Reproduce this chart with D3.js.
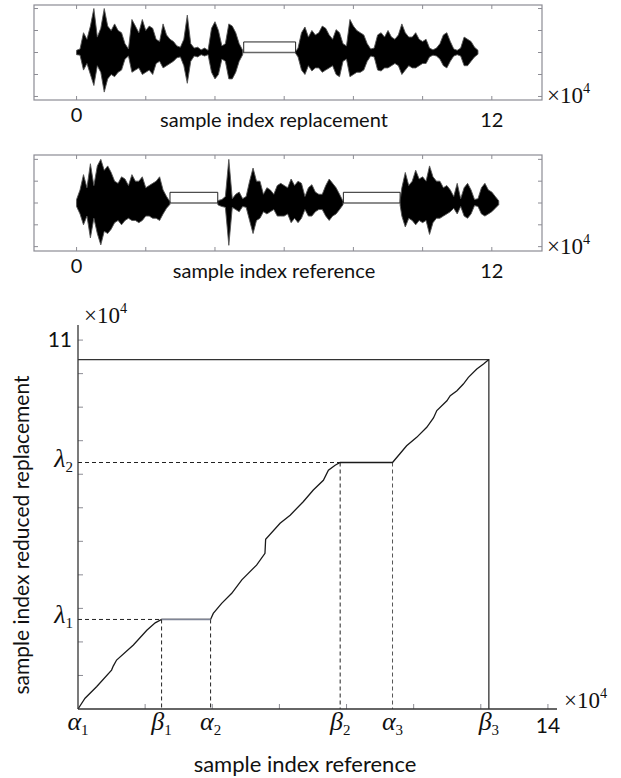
<!DOCTYPE html>
<html><head><meta charset="utf-8">
<script src="https://cdn.jsdelivr.net/npm/d3@7"></script>
<style>body{margin:0;background:#fff}</style>
</head><body><svg id="c" width="621" height="778"></svg>
<script>
// ---------- DATA ----------
// top waveform: sample index replacement (x in 1e4 samples), [x, upper, lower]
const repWaveA = [
 [0.0,0.05,-0.05],[0.1,0.08,-0.06],[0.2,0.45,-0.4],[0.3,0.3,-0.25],[0.4,0.6,-0.5],[0.5,1.0,-0.75],[0.6,0.35,-0.3],[0.7,0.55,-0.45],[0.8,1.0,-0.9],[0.9,0.6,-0.6],
 [1.0,0.5,-0.5],[1.1,0.65,-0.55],[1.2,0.5,-0.45],[1.3,0.45,-0.4],[1.4,0.2,-0.15],[1.5,0.08,-0.08],[1.6,0.75,-0.45],[1.7,0.6,-0.4],[1.8,0.45,-0.35],[1.9,0.75,-0.5],
 [2.0,0.5,-0.45],[2.1,0.6,-0.4],[2.2,0.55,-0.5],[2.3,0.3,-0.25],[2.4,0.25,-0.2],[2.5,0.65,-0.35],[2.6,0.4,-0.3],[2.7,0.3,-0.25],[2.8,0.25,-0.2],[2.9,0.15,-0.12],
 [3.0,0.12,-0.1],[3.1,0.3,-0.3],[3.2,0.85,-0.7],[3.3,0.2,-0.2],[3.4,0.1,-0.08],[3.5,0.12,-0.1],[3.6,0.06,-0.05],[3.7,0.1,-0.08],[3.8,0.05,-0.05],[3.9,0.55,-0.45],
 [4.0,0.7,-0.6],[4.1,0.5,-0.5],[4.2,0.15,-0.15],[4.3,0.2,-0.2],[4.4,0.65,-0.6],[4.5,0.6,-0.6],[4.6,0.45,-0.45],[4.7,0.2,-0.2],[4.8,0.05,-0.05]
];
const repWaveB = [
 [6.33,0.02,-0.02],[6.4,0.1,-0.1],[6.5,0.45,-0.4],[6.6,0.58,-0.5],[6.7,0.35,-0.3],[6.8,0.5,-0.42],[6.9,0.4,-0.35],[7.0,0.45,-0.35],[7.1,0.6,-0.45],[7.2,0.55,-0.4],
 [7.3,0.4,-0.35],[7.4,0.3,-0.3],[7.5,0.52,-0.5],[7.6,0.45,-0.55],[7.7,0.2,-0.2],[7.8,0.15,-0.15],[7.9,0.75,-0.55],[8.0,0.6,-0.5],[8.1,0.5,-0.45],[8.2,0.45,-0.45],
 [8.3,0.4,-0.4],[8.4,0.2,-0.2],[8.5,0.08,-0.08],[8.6,0.1,-0.1],[8.7,0.4,-0.4],[8.8,0.45,-0.42],[8.9,0.35,-0.35],[9.0,0.5,-0.35],[9.1,0.35,-0.3],[9.2,0.3,-0.25],
 [9.3,0.4,-0.3],[9.4,0.65,-0.5],[9.5,0.45,-0.4],[9.6,0.35,-0.3],[9.7,0.35,-0.35],[9.8,0.45,-0.35],[9.9,0.3,-0.3],[10.0,0.25,-0.25],[10.1,0.3,-0.25],[10.2,0.1,-0.1],
 [10.3,0.06,-0.06],[10.4,0.1,-0.08],[10.5,0.2,-0.15],[10.6,0.4,-0.3],[10.7,0.45,-0.35],[10.8,0.25,-0.2],[10.9,0.08,-0.08],[11.0,0.05,-0.05],[11.1,0.1,-0.08],[11.2,0.35,-0.3],
 [11.3,0.3,-0.3],[11.4,0.25,-0.2],[11.5,0.12,-0.1],[11.6,0.05,-0.04]
];
const repGaps = [[4.83, 6.33]];
const repGapHeight = 0.24;

// second waveform: sample index reference
const refWaveA = [
 [0.0,0.08,-0.08],[0.1,0.3,-0.25],[0.2,0.65,-0.5],[0.3,0.35,-0.3],[0.4,0.9,-0.8],[0.5,0.4,-0.35],[0.6,0.85,-0.7],[0.7,1.0,-0.96],[0.8,0.75,-0.65],[0.9,0.85,-0.7],
 [1.0,0.7,-0.6],[1.1,0.5,-0.45],[1.2,0.45,-0.4],[1.3,0.6,-0.5],[1.4,0.55,-0.4],[1.5,0.4,-0.35],[1.6,0.65,-0.4],[1.7,0.5,-0.4],[1.8,0.5,-0.45],[1.9,0.6,-0.4],
 [2.0,0.35,-0.3],[2.1,0.4,-0.3],[2.2,0.45,-0.35],[2.3,0.5,-0.35],[2.4,0.6,-0.4],[2.5,0.3,-0.25],[2.6,0.15,-0.12],[2.7,0.03,-0.03]
];
const refWaveB = [
 [4.08,0.03,-0.03],[4.1,0.06,-0.05],[4.2,0.08,-0.08],[4.3,0.15,-0.1],[4.4,1.0,-0.97],[4.5,0.1,-0.1],[4.6,0.2,-0.15],[4.7,0.25,-0.2],[4.8,0.1,-0.08],[4.9,0.15,-0.1],
 [5.0,0.5,-0.4],[5.1,0.8,-0.7],[5.2,0.5,-0.4],[5.3,0.5,-0.35],[5.4,0.2,-0.2],[5.5,0.35,-0.25],[5.6,0.3,-0.2],[5.7,0.2,-0.15],[5.8,0.4,-0.3],[5.9,0.45,-0.3],
 [6.0,0.4,-0.3],[6.1,0.35,-0.25],[6.2,0.55,-0.45],[6.3,0.4,-0.35],[6.4,0.5,-0.45],[6.5,0.45,-0.35],[6.6,0.15,-0.15],[6.7,0.35,-0.3],[6.8,0.42,-0.3],[6.9,0.25,-0.2],
 [7.0,0.2,-0.15],[7.1,0.2,-0.15],[7.2,0.4,-0.3],[7.3,0.55,-0.4],[7.4,0.45,-0.3],[7.5,0.35,-0.25],[7.6,0.2,-0.15],[7.7,0.04,-0.04]
];
const refWaveC = [
 [9.35,0.05,-0.05],[9.4,0.35,-0.3],[9.5,0.7,-0.55],[9.6,0.4,-0.35],[9.7,0.5,-0.4],[9.8,0.75,-0.5],[9.9,0.55,-0.4],[10.0,0.6,-0.45],[10.1,0.5,-0.4],[10.2,0.85,-0.72],
 [10.3,0.6,-0.45],[10.4,0.5,-0.35],[10.5,0.5,-0.35],[10.6,0.35,-0.3],[10.7,0.4,-0.25],[10.8,0.3,-0.2],[10.9,0.15,-0.12],[11.0,0.45,-0.25],[11.1,0.1,-0.08],[11.2,0.35,-0.3],
 [11.3,0.45,-0.35],[11.4,0.3,-0.25],[11.5,0.08,-0.06],[11.6,0.1,-0.08],[11.7,0.35,-0.25],[11.8,0.45,-0.3],[11.9,0.3,-0.25],[12.0,0.25,-0.2],[12.1,0.15,-0.12],[12.2,0.05,-0.04]
];
const refGaps = [[2.70, 4.08], [7.71, 9.35]];
const refGapHeight = 0.245;

const waveXTicks = [0, 2, 4, 6, 8, 10, 12];
const waveXLabels = ["0", "12"];
const waveYTicks = [-1, -0.5, 0, 0.5, 1];

// bottom chart: warping path (reference x, reduced replacement y), 1e4 samples
const warpPath = [
 [0.0,0.0],[0.21,0.32],[0.56,0.67],[1.00,1.16],[1.05,1.28],[1.15,1.46],[1.65,1.91],[2.05,2.35],[2.30,2.57],[2.49,2.67],
 [3.95,2.67],[4.03,2.85],[4.28,3.15],[4.58,3.45],[4.88,3.85],[5.32,4.29],[5.57,4.64],[5.59,5.06],[6.02,5.54],[6.32,5.78],
 [6.71,6.18],[7.01,6.53],[7.31,6.82],[7.46,7.12],[7.66,7.27],[7.81,7.35],
 [9.37,7.35],[9.59,7.61],[9.79,7.85],[10.09,8.10],[10.39,8.40],[10.59,8.68],[10.69,8.90],[10.99,9.19],[11.09,9.34],[11.29,9.49],
 [11.48,9.69],[11.63,9.89],[11.88,10.14],[12.08,10.29],[12.24,10.42]
];
const alphas = [0, 3.95, 9.37];
const betas = [2.49, 7.81, 12.24];
const lambdas = [2.67, 7.35];
const topLevel = 10.42;
const warpXTicks = [2, 4, 6, 8, 10, 12, 14];
const warpYTicks = [1, 2, 3, 4, 5, 6, 7, 8, 9, 10, 11];

// ---------- DRAW ----------
const svg = d3.select("#c");
const SANS = "Lato, 'Open Sans', sans-serif";
const SERIF = "'Liberation Serif', 'DejaVu Serif', serif";

function times10(g, x, y, size) {
  const t = g.append("text").attr("x", x).attr("y", y)
    .attr("font-family", SERIF).attr("font-size", size).attr("fill", "#111");
  t.append("tspan").text("×10");
  t.append("tspan").attr("dy", -size * 0.42).attr("font-size", size * 0.62).text("4");
}

function wavePanel(top, bottom, segs, gaps, gapH, yMax, xlabel) {
  const x = d3.scaleLinear().domain([-1.23, 13.45]).range([34, 542]);
  const y = d3.scaleLinear().domain([-yMax, yMax]).range([bottom, top]);
  const g = svg.append("g");
  const first = segs[0][0][0], last = segs[segs.length - 1];
  g.append("line").attr("x1", x(first)).attr("x2", x(last[last.length - 1][0]))
    .attr("y1", y(0)).attr("y2", y(0)).attr("stroke", "#666").attr("stroke-width", 1.3);
  const area = d3.area().x(d => x(d[0])).y0(d => y(d[2])).y1(d => y(d[1]));
  segs.forEach(s => {
    g.append("path").attr("d", area(s)).attr("fill", "#000")
      .attr("stroke", "#555").attr("stroke-width", 0.9);
  });
  gaps.forEach(([a, b]) => {
    g.append("path")
      .attr("d", `M${x(a)},${y(0)}V${y(gapH)}H${x(b)}V${y(0)}`)
      .attr("fill", "none").attr("stroke", "#222").attr("stroke-width", 1);
  });
  g.append("rect").attr("x", 34).attr("y", top).attr("width", 508).attr("height", bottom - top)
    .attr("fill", "none").attr("stroke", "#8c8c94").attr("stroke-width", 1.2);
  waveXTicks.forEach(t => {
    g.append("line").attr("x1", x(t)).attr("x2", x(t)).attr("y1", bottom).attr("y2", bottom - 4).attr("stroke", "#8c8c94");
    g.append("line").attr("x1", x(t)).attr("x2", x(t)).attr("y1", top).attr("y2", top + 4).attr("stroke", "#8c8c94");
  });
  waveYTicks.forEach(t => {
    g.append("line").attr("x1", 34).attr("x2", 38).attr("y1", y(t)).attr("y2", y(t)).attr("stroke", "#8c8c94");
    g.append("line").attr("x1", 542).attr("x2", 538).attr("y1", y(t)).attr("y2", y(t)).attr("stroke", "#8c8c94");
  });
  g.append("text").attr("x", x(0)).attr("y", bottom + 22).attr("text-anchor", "middle")
    .attr("font-family", SANS).attr("font-size", 20).attr("fill", "#111").text(waveXLabels[0]);
  g.append("text").attr("x", x(12)).attr("y", bottom + 27).attr("text-anchor", "middle")
    .attr("font-family", SANS).attr("font-size", 20).attr("fill", "#111").text(waveXLabels[1]);
  g.append("text").attr("x", 274).attr("y", bottom + 27).attr("text-anchor", "middle")
    .attr("font-family", SANS).attr("font-size", 20).attr("fill", "#111").text(xlabel);
  times10(g, 547, bottom + 3, 23);
}

wavePanel(5, 100, [repWaveA, repWaveB], repGaps, repGapHeight, 1.08, "sample index replacement");
wavePanel(155, 251, [refWaveA, refWaveB, refWaveC], refGaps, refGapHeight, 1.1, "sample index reference");

// bottom chart
const bx = d3.scaleLinear().domain([0, 14.27]).range([78, 557]);
const by = d3.scaleLinear().domain([0, 11.45]).range([709, 325]);
const b = svg.append("g");

warpXTicks.forEach(t => b.append("line").attr("x1", bx(t)).attr("x2", bx(t)).attr("y1", by(0)).attr("y2", by(0) - 5).attr("stroke", "#8c8c94"));
warpYTicks.forEach(t => b.append("line").attr("x1", bx(0)).attr("x2", bx(0) + 5).attr("y1", by(t)).attr("y2", by(t)).attr("stroke", "#8c8c94"));

b.append("path").attr("d", `M${bx(0)},${by(topLevel)}H${bx(betas[2])}V${by(0)}`)
  .attr("fill", "none").attr("stroke", "#333").attr("stroke-width", 1.3);

const dash = "4,3";
lambdas.forEach((l, i) => {
  b.append("line").attr("x1", bx(0)).attr("x2", bx(betas[i])).attr("y1", by(l)).attr("y2", by(l))
    .attr("stroke", "#222").attr("stroke-dasharray", dash);
  b.append("line").attr("x1", bx(betas[i])).attr("x2", bx(betas[i])).attr("y1", by(l)).attr("y2", by(0))
    .attr("stroke", "#222").attr("stroke-dasharray", dash);
  b.append("line").attr("x1", bx(alphas[i + 1])).attr("x2", bx(alphas[i + 1])).attr("y1", by(l)).attr("y2", by(0))
    .attr("stroke", i === 0 ? "#222" : "#555").attr("stroke-dasharray", dash);
});

const line = d3.line().x(d => bx(d[0])).y(d => by(d[1]));
b.append("path").attr("d", line(warpPath)).attr("fill", "none").attr("stroke", "#1a1a1a").attr("stroke-width", 1.3);
b.append("path").attr("d", line([[betas[0], lambdas[0]], [alphas[1], lambdas[0]]]))
  .attr("fill", "none").attr("stroke", "#7f8596").attr("stroke-width", 1.6);

b.append("line").attr("x1", bx(0)).attr("x2", bx(14.27)).attr("y1", by(0)).attr("y2", by(0)).attr("stroke", "#333").attr("stroke-width", 1.3);
b.append("line").attr("x1", bx(0)).attr("x2", bx(0)).attr("y1", by(0)).attr("y2", by(11.45)).attr("stroke", "#333").attr("stroke-width", 1.3);

function greek(x, y, letter, sub, anchor) {
  const t = b.append("text").attr("x", x).attr("y", y).attr("text-anchor", anchor || "middle")
    .attr("font-family", SERIF).attr("fill", "#111");
  t.append("tspan").attr("font-style", "italic").attr("font-size", 26).text(letter);
  t.append("tspan").attr("font-size", 15).attr("dy", 5).text(sub);
}
alphas.forEach((a, i) => greek(bx(a), by(0) + 21, "α", String(i + 1)));
betas.forEach((v, i) => greek(bx(v), by(0) + 21, "β", String(i + 1)));
lambdas.forEach((l, i) => greek(bx(0) - 5, by(l) + 4, "λ", String(i + 1), "end"));

b.append("text").attr("x", bx(14)).attr("y", by(0) + 24).attr("text-anchor", "middle")
  .attr("font-family", SANS).attr("font-size", 21).attr("fill", "#111").text("14");
b.append("text").attr("x", bx(0) - 6).attr("y", by(11) + 7).attr("text-anchor", "end")
  .attr("font-family", SANS).attr("font-size", 21).attr("fill", "#111").text("11");
times10(b, 84, 323, 23);
times10(b, 564, 708, 23);

b.append("text").attr("x", 305).attr("y", 772).attr("text-anchor", "middle")
  .attr("font-family", SANS).attr("font-size", 22).attr("fill", "#111").text("sample index reference");
b.append("text").attr("transform", "translate(29,535) rotate(-90)").attr("text-anchor", "middle")
  .attr("font-family", SANS).attr("font-size", 21).attr("fill", "#111").text("sample index reduced replacement");
</script></body></html>
